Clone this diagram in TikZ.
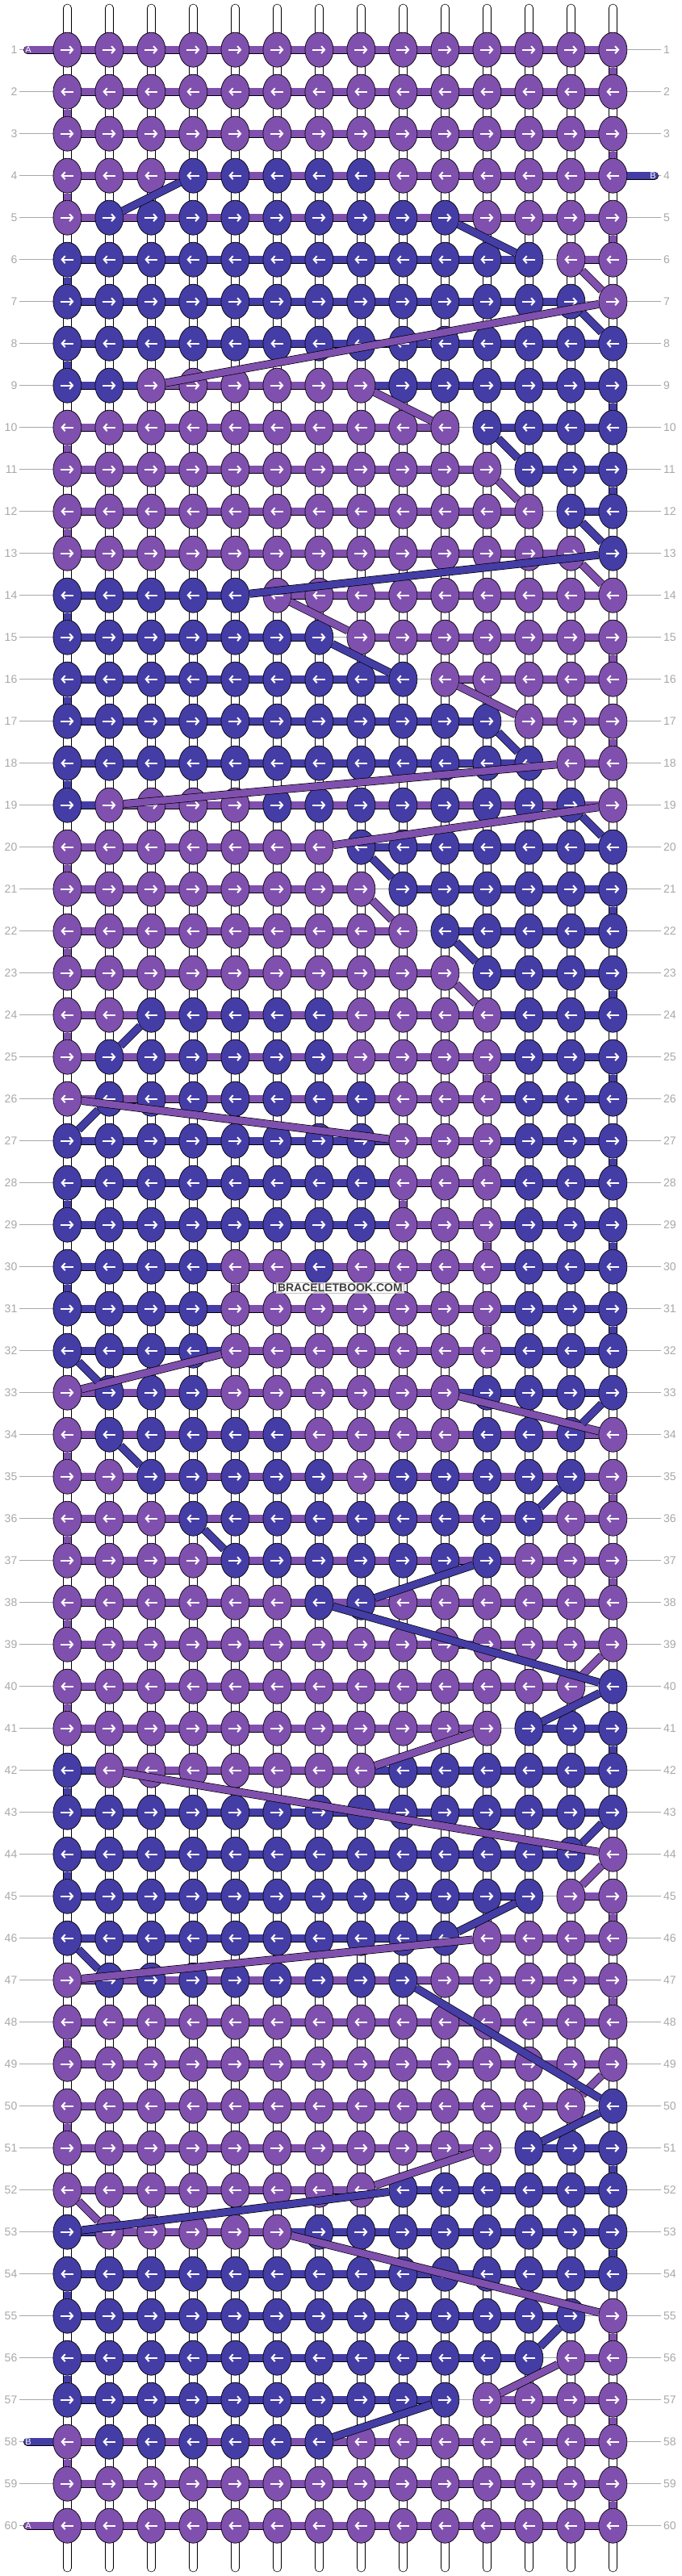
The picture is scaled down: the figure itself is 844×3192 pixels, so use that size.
\documentclass[tikz,border=0pt]{standalone}
\usepackage{fontspec}
\setmainfont{Liberation Sans}
\usetikzlibrary{shapes.geometric,arrows.meta,calc}

\definecolor{thp}{HTML}{8050AE}
\definecolor{thb}{HTML}{443DA6}
\definecolor{rowgray}{HTML}{A8A8A8}

\tikzset{
  knot/.style={ellipse, draw=black, line width=0.7pt, minimum width=35pt, minimum height=43pt, inner sep=0pt},
  band/.style={draw=black, line width=0.7pt, double=#1, double distance=8.6pt},
  warp/.style={draw=black, line width=0.7pt, double=white, double distance=9pt, line cap=round},
  arr/.style={draw=white, line width=2pt, -{Straight Barb[length=4pt,width=9pt]}},
  rowline/.style={draw=rowgray, line width=1pt},
  rowlab/.style={text=rowgray, font=\fontsize{14}{14}\selectfont, inner sep=2.5pt},
  endlab/.style={text=white, font=\fontsize{11}{11}\selectfont, inner sep=0pt},
  wmark/.style={text=black!75, font=\bfseries\fontsize{14}{14}\selectfont, fill=white, fill opacity=0.7, text opacity=1, draw=black!25, inner sep=1.5pt}
}

% row / knot colours (left to right) / purple range / blue range
\newcommand\knotrows{
  1/{p,p,p,p,p,p,p,p,p,p,p,p,p,p}/1/14/0/0,
  2/{p,p,p,p,p,p,p,p,p,p,p,p,p,p}/1/14/0/0,
  3/{p,p,p,p,p,p,p,p,p,p,p,p,p,p}/1/14/0/0,
  4/{p,p,p,b,b,b,b,b,p,p,p,p,p,p}/1/14/4/8,
  5/{p,b,b,b,b,b,b,b,b,b,p,p,p,p}/1/14/2/10,
  6/{b,b,b,b,b,b,b,b,b,b,b,b,p,p}/13/14/1/12,
  7/{b,b,b,b,b,b,b,b,b,b,b,b,b,p}/14/14/1/13,
  8/{b,b,b,b,b,b,b,b,b,b,b,b,b,b}/0/0/1/14,
  9/{b,b,p,p,p,p,p,p,b,b,b,b,b,b}/3/8/1/14,
  10/{p,p,p,p,p,p,p,p,p,p,b,b,b,b}/1/10/11/14,
  11/{p,p,p,p,p,p,p,p,p,p,p,b,b,b}/1/11/12/14,
  12/{p,p,p,p,p,p,p,p,p,p,p,p,b,b}/1/12/13/14,
  13/{p,p,p,p,p,p,p,p,p,p,p,p,p,b}/1/13/14/14,
  14/{b,b,b,b,b,p,p,p,p,p,p,p,p,p}/6/14/1/5,
  15/{b,b,b,b,b,b,b,p,p,p,p,p,p,p}/8/14/1/7,
  16/{b,b,b,b,b,b,b,b,b,p,p,p,p,p}/10/14/1/9,
  17/{b,b,b,b,b,b,b,b,b,b,b,p,p,p}/12/14/1/11,
  18/{b,b,b,b,b,b,b,b,b,b,b,b,p,p}/13/14/1/12,
  19/{b,p,p,p,p,b,b,b,b,b,b,b,b,p}/2/14/1/13,
  20/{p,p,p,p,p,p,p,b,b,b,b,b,b,b}/1/7/8/14,
  21/{p,p,p,p,p,p,p,p,b,b,b,b,b,b}/1/8/9/14,
  22/{p,p,p,p,p,p,p,p,p,b,b,b,b,b}/1/9/10/14,
  23/{p,p,p,p,p,p,p,p,p,p,b,b,b,b}/1/10/11/14,
  24/{p,p,b,b,b,b,b,p,p,p,p,b,b,b}/1/11/3/14,
  25/{p,b,b,b,b,b,b,p,p,p,p,b,b,b}/1/11/2/14,
  26/{p,b,b,b,b,b,b,b,p,p,p,b,b,b}/1/11/2/14,
  27/{b,b,b,b,b,b,b,b,p,p,p,b,b,b}/9/11/1/14,
  28/{b,b,b,b,b,b,b,b,p,p,p,b,b,b}/9/11/1/14,
  29/{b,b,b,b,b,b,b,b,p,p,p,b,b,b}/9/11/1/14,
  30/{b,b,b,b,p,p,b,p,p,p,p,b,b,b}/5/11/1/14,
  31/{b,b,b,b,p,p,p,p,p,p,p,b,b,b}/5/11/1/14,
  32/{b,b,b,b,p,p,p,p,p,p,p,b,b,b}/5/11/1/14,
  33/{p,b,b,b,p,p,p,p,p,p,b,b,b,b}/1/10/2/14,
  34/{p,b,b,b,b,b,p,p,p,p,b,b,b,p}/1/14/2/13,
  35/{p,p,b,b,b,b,b,p,b,b,b,b,b,p}/1/14/3/13,
  36/{p,p,p,b,b,b,b,b,b,b,b,b,p,p}/1/14/4/12,
  37/{p,p,p,p,b,b,b,b,b,b,b,p,p,p}/1/14/5/11,
  38/{p,p,p,p,p,p,b,b,p,p,p,p,p,p}/1/14/7/8,
  39/{p,p,p,p,p,p,p,p,p,p,p,p,p,p}/1/14/0/0,
  40/{p,p,p,p,p,p,p,p,p,p,p,p,p,b}/1/13/14/14,
  41/{p,p,p,p,p,p,p,p,p,p,p,b,b,b}/1/11/12/14,
  42/{b,p,p,p,p,p,p,p,b,b,b,b,b,b}/2/8/1/14,
  43/{b,b,b,b,b,b,b,b,b,b,b,b,b,b}/0/0/1/14,
  44/{b,b,b,b,b,b,b,b,b,b,b,b,b,p}/14/14/1/13,
  45/{b,b,b,b,b,b,b,b,b,b,b,b,p,p}/13/14/1/12,
  46/{b,b,b,b,b,b,b,b,b,b,p,p,p,p}/11/14/1/10,
  47/{p,b,b,b,b,b,b,b,b,p,p,p,p,p}/1/14/2/9,
  48/{p,p,p,p,p,p,p,p,p,p,p,p,p,p}/1/14/0/0,
  49/{p,p,p,p,p,p,p,p,p,p,p,p,p,p}/1/14/0/0,
  50/{p,p,p,p,p,p,p,p,p,p,p,p,p,b}/1/13/14/14,
  51/{p,p,p,p,p,p,p,p,p,p,p,b,b,b}/1/11/12/14,
  52/{p,p,p,p,p,p,p,p,b,b,b,b,b,b}/1/8/9/14,
  53/{b,p,p,p,p,p,b,b,b,b,b,b,b,b}/2/6/1/14,
  54/{b,b,b,b,b,b,b,b,b,b,b,b,b,b}/0/0/1/14,
  55/{b,b,b,b,b,b,b,b,b,b,b,b,b,p}/14/14/1/13,
  56/{b,b,b,b,b,b,b,b,b,b,b,b,p,p}/13/14/1/12,
  57/{b,b,b,b,b,b,b,b,b,b,p,p,p,p}/11/14/1/10,
  58/{p,b,b,b,b,b,b,p,p,p,p,p,p,p}/1/14/2/7,
  59/{p,p,p,p,p,p,p,p,p,p,p,p,p,p}/1/14/0/0,
  60/{p,p,p,p,p,p,p,p,p,p,p,p,p,p}/1/14/0/0}

\begin{document}
\begin{tikzpicture}[x=1pt, y=-1pt]
  \useasboundingbox (0,0) rectangle (844,3192);

  % grid points
  \foreach \r in {1,...,60}
    \foreach \c in {1,...,14}
      \coordinate (p-\r-\c) at ({83.4+52*(\c-1)}, {61.7+52*(\r-1)});

  % row numbers
  \foreach \r in {1,...,60} {
    \node[rowlab, anchor=east] (labL-\r) at ([xshift=-59.4pt]p-\r-1) {\r};
    \node[rowlab, anchor=west] (labR-\r) at ([xshift=60pt]p-\r-14) {\r};
    \draw[rowline] (labL-\r) -- (labR-\r);
  }

  % strings
  \foreach \c in {1,...,14} {
    \path (p-1-\c) ++(0,-51.7) coordinate (top-\c);
    \path (p-60-\c) ++(0,52.3) coordinate (bot-\c);
    \draw[warp] (top-\c) -- (bot-\c);
  }

  % loose ends
  \path (p-1-1) ++(-49.4,0) coordinate (startA);
  \path (p-4-14) ++(51.6,0) coordinate (startB);
  \path (p-58-1) ++(-49.4,0) coordinate (endB);
  \path (p-60-1) ++(-49.4,0) coordinate (endA);
  \draw[band=thp, line cap=round] (startA) -- (p-1-1);
  \draw[band=thb, line cap=round] (startB) -- (p-4-14);
  \draw[band=thb, line cap=round] (endB) -- (p-58-1);
  \draw[band=thp, line cap=round] (endA) -- (p-60-1);

  % threads along the rows
  \foreach \r/\knots/\pa/\pb/\ba/\bb in \knotrows {
    \foreach \i in {1,...,13} {
      \pgfmathtruncatemacro\j{\i+1}
      \pgfmathtruncatemacro\onp{and(\i>\pa-1,\j<\pb+1)}
      \pgfmathtruncatemacro\onb{and(\i>\ba-1,\j<\bb+1)}
      \ifnum\onp=1
        \draw[band=thp] (p-\r-\i) -- (p-\r-\j);
      \else\ifnum\onb=1
        \draw[band=thb] (p-\r-\i) -- (p-\r-\j);
      \fi\fi
    }
  }

  % knots
  \foreach \r/\knots/\pa/\pb/\ba/\bb in \knotrows {
    \foreach \k [count=\c] in \knots {
      \node[knot, fill=th\k] (k-\r-\c) at (p-\r-\c) {};
      \ifodd\r
        \draw[arr] ([xshift=-8pt]k-\r-\c.center) -- ([xshift=8pt]k-\r-\c.center);
      \else
        \draw[arr] ([xshift=8pt]k-\r-\c.center) -- ([xshift=-8pt]k-\r-\c.center);
      \fi
    }
  }

  % thread A from row to row
  \foreach \a/\b in {1-14/2-14, 2-1/3-1, 3-14/4-14, 4-1/5-1, 5-14/6-14,
      6-13/7-14, 7-14/9-3, 9-8/10-10, 10-1/11-1, 11-11/12-12, 12-1/13-1,
      13-13/14-14, 14-6/15-8, 15-14/16-14, 16-10/17-12, 17-14/18-14,
      18-13/19-2, 19-14/20-7, 20-1/21-1, 21-8/22-9, 22-1/23-1, 23-10/24-11,
      24-1/25-1, 25-11/26-11, 26-1/27-9, 27-11/28-11, 28-9/29-9,
      29-11/30-11, 30-5/31-5, 31-11/32-11, 32-5/33-1, 33-10/34-14,
      34-1/35-1, 35-14/36-14, 36-1/37-1, 37-14/38-14, 38-1/39-1,
      39-14/40-13, 40-1/41-1, 41-11/42-8, 42-2/44-14, 44-14/45-13,
      45-14/46-14, 46-11/47-1, 47-14/48-14, 48-1/49-1, 49-14/50-13,
      50-1/51-1, 51-11/52-8, 52-1/53-2, 53-6/55-14, 55-14/56-14,
      56-13/57-11, 57-14/58-14, 58-1/59-1, 59-14/60-14}
    \draw[band=thp] (k-\a) -- (k-\b);

  % thread B from row to row
  \foreach \a/\b in {4-4/5-2, 5-10/6-12, 6-1/7-1, 7-13/8-14, 8-1/9-1,
      9-14/10-14, 10-11/11-12, 11-14/12-14, 12-13/13-14, 13-14/14-5,
      14-1/15-1, 15-7/16-9, 16-1/17-1, 17-11/18-12, 18-1/19-1,
      19-13/20-14, 20-8/21-9, 21-14/22-14, 22-10/23-11, 23-14/24-14,
      24-3/25-2, 25-14/26-14, 26-2/27-1, 27-14/28-14, 28-1/29-1,
      29-14/30-14, 30-1/31-1, 31-14/32-14, 32-1/33-2, 33-14/34-13,
      34-2/35-3, 35-13/36-12, 36-4/37-5, 37-11/38-8, 38-7/40-14,
      40-14/41-12, 41-14/42-14, 42-1/43-1, 43-14/44-13, 44-1/45-1,
      45-12/46-10, 46-1/47-2, 47-9/50-14, 50-14/51-12, 51-14/52-14,
      52-9/53-1, 53-14/54-14, 54-1/55-1, 55-13/56-12, 56-1/57-1,
      57-10/58-7}
    \draw[band=thb] (k-\a) -- (k-\b);

  \node[endlab] (labA1) at ([xshift=1pt]startA) {A};
  \node[endlab] (labB1) at ([xshift=-2pt]startB) {B};
  \node[endlab] (labB2) at ([xshift=1pt]endB) {B};
  \node[endlab] (labA2) at ([xshift=1pt]endA) {A};

  \node[wmark] (wm) at ($(p-30-7)!0.5!(p-31-8)$) {BRACELETBOOK.COM};
\end{tikzpicture}
\end{document}
